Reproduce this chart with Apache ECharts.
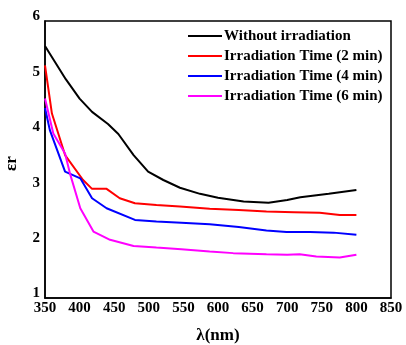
<!DOCTYPE html>
<html><head><meta charset="utf-8">
<script src="https://cdn.jsdelivr.net/npm/echarts@6/dist/echarts.min.js"></script>
<style>html,body{margin:0;padding:0;background:#fff}#c{width:406px;height:345px}</style>
</head><body><div id="c"></div>
<script>
const seriesNames = ['Without irradiation','Irradiation Time (2 min)','Irradiation Time (4 min)','Irradiation Time (6 min)'];
const xTicks = [350,400,450,500,550,600,650,700,750,800,850];
const yTicks = [1,2,3,4,5,6];
const without = [[350,5.55],[380,4.95],[400,4.6],[418,4.36],[441,4.14],[456,3.96],[478,3.58],[499,3.28],[521,3.13],[545,2.99],[574,2.88],[600,2.81],[637,2.74],[673,2.72],[700,2.77],[719,2.82],[760,2.88],[800,2.95]];
const t2 = [[350,5.2],[360,4.33],[379,3.58],[405,3.13],[418,2.97],[439,2.97],[458,2.8],[480,2.71],[511,2.68],[545,2.65],[588,2.61],[630,2.59],[670,2.56],[710,2.55],[747,2.54],[776,2.5],[800,2.5]];
const t4 = [[350,4.43],[357,4.03],[379,3.28],[401,3.16],[418,2.8],[439,2.62],[480,2.41],[511,2.38],[547,2.36],[588,2.33],[630,2.28],[670,2.22],[699,2.19],[733,2.19],[767,2.18],[800,2.14]];
const t6 = [[350,4.6],[362,3.97],[379,3.61],[386,3.25],[401,2.62],[420,2.2],[444,2.05],[478,1.94],[511,1.91],[547,1.88],[588,1.84],[622,1.81],[670,1.79],[700,1.78],[718,1.79],[742,1.75],[776,1.73],[800,1.78]];
const colors = ['#000000','#ff0000','#0000ff','#ff00ff'];
const font = 'Liberation Serif';
const chart = echarts.init(document.getElementById('c'), null, {renderer:'canvas'});
const datas = [without,t2,t4,t6];
chart.setOption({
  animation:false,
  grid:{left:45,top:21,right:15,bottom:47,outerBoundsMode:'none',containLabel:false,show:true,borderColor:'#000',borderWidth:1.5,backgroundColor:'transparent'},
  legend:{
    orient:'vertical', left:188, top:26, padding:0, itemGap:0, itemWidth:34, itemHeight:2, icon:'rect',
    data:seriesNames,
    textStyle:{fontFamily:font,fontWeight:'bold',fontSize:15,color:'#000',lineHeight:20,padding:[0,0,0,-3]}
  },
  xAxis:{type:'value',min:xTicks[0],max:xTicks[xTicks.length-1],interval:50,
    name:'λ(nm)',nameLocation:'middle',nameGap:29,
    nameTextStyle:{fontFamily:font,fontWeight:'bold',fontSize:17,color:'#000'},
    axisLine:{show:true,lineStyle:{color:'#000',width:1.5}},axisTick:{show:false},splitLine:{show:false},
    axisLabel:{fontFamily:font,fontWeight:'bold',fontSize:15,color:'#000',margin:3}},
  yAxis:{type:'value',min:yTicks[0],max:yTicks[yTicks.length-1],interval:1,
    name:'εr',nameLocation:'middle',nameGap:25,nameRotate:90,
    nameTextStyle:{fontFamily:font,fontWeight:'bold',fontSize:17,color:'#000',padding:[0,0,0,-8]},
    axisLine:{show:true,lineStyle:{color:'#000',width:1.5}},axisTick:{show:false},splitLine:{show:false},
    axisLabel:{fontFamily:font,fontWeight:'bold',fontSize:15,color:'#000',margin:5,verticalAlign:'bottom',lineHeight:9}},
  series: datas.map((d,i)=>({name:seriesNames[i],type:'line',data:d,symbol:'none',
    lineStyle:{color:colors[i],width:2},itemStyle:{color:colors[i]}}))
});
</script></body></html>
